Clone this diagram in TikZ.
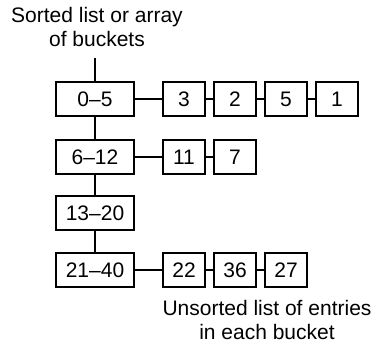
\documentclass[tikz,border=0pt]{standalone}
\usepackage{fontspec}
\setmainfont{Liberation Sans}
\usepackage{tikz}
\usetikzlibrary{positioning}

\begin{document}
\begin{tikzpicture}[x=1pt, y=-1pt,
  bucket/.style={draw, line width=1.6pt, minimum width=78.5pt, minimum height=34.5pt, inner sep=0pt},
  entry/.style={draw, line width=1.6pt, minimum width=42.5pt, minimum height=34.5pt, inner sep=0pt},
  link/.style={line width=1.3pt},
  note/.style={align=center, inner sep=0pt, anchor=north}]
\useasboundingbox (0,0) rectangle (374,345);
\fontsize{21}{23.5}\selectfont
% buckets
\node[bucket] (b05) at (95,99) {0--5};
\node[bucket] (b612) at (95,157) {6--12};
\node[bucket] (b1320) at (95,213) {13--20};
\node[bucket] (b2140) at (95,270) {21--40};
\coordinate (top) at (95,58);
\draw[link] (top) -- (b05);
\draw[link] (b05) -- (b612);
\draw[link] (b612) -- (b1320);
\draw[link] (b1320) -- (b2140);
% entries
\node[entry] (e3) at (184,99) {3};
\node[entry] (e2) at (235,99) {2};
\node[entry] (e5) at (286,99) {5};
\node[entry] (e1) at (337,99) {1};
\node[entry] (e11) at (184,157) {11};
\node[entry] (e7) at (235,157) {7};
\node[entry] (e22) at (184,270) {22};
\node[entry] (e36) at (235,270) {36};
\node[entry] (e27) at (286,270) {27};
\draw[link] (b05) -- (e3) -- (e2) -- (e5) -- (e1);
\draw[link] (b612) -- (e11) -- (e7);
\draw[link] (b2140) -- (e22) -- (e36) -- (e27);
% labels
\node[note] (sorted) at (97,7.5) {Sorted list or array\\of buckets};
\node[note] (unsorted) at (267,300.5) {Unsorted list of entries\\in each bucket};
\end{tikzpicture}
\end{document}
